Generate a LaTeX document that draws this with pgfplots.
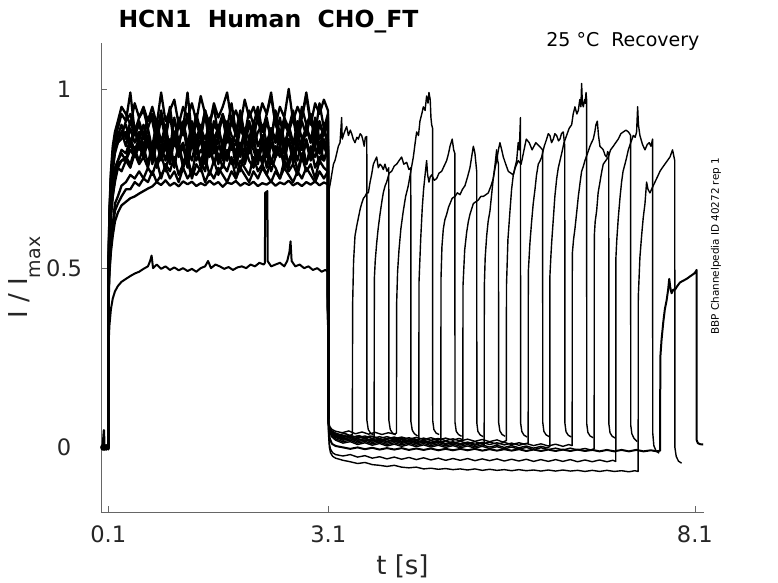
\documentclass[border=0pt]{standalone}
\usepackage{fontspec}
\setmainfont{DejaVu Sans}
\usepackage{pgfplots}
\usepackage{pgfplotstable}
\pgfplotsset{compat=1.18}
\pgfplotstableread{
t a0 a1 a2 a3 a4 a5 a6 a7 a8 a9 a10 a11 a12 a13 a14
0.000 0.003 -0.004 0.006 -0.002 0.001 -0.006 0.004 0.000 -0.003 0.005 -0.001 0.002 -0.005 0.003 -0.002
0.025 -0.005 0.004 -0.002 0.007 -0.004 0.002 -0.006 0.005 0.001 -0.003 0.006 -0.004 0.002 -0.001 0.004
0.040 0.002 -0.003 0.008 0.048 0.003 -0.004 0.001 -0.006 0.005 0.002 -0.003 0.006 -0.002 0.004 -0.005
0.046 -0.003 0.005 -0.004 0.003 -0.002 0.006 -0.005 0.002 -0.001 0.004 0.001 -0.006 0.005 -0.003 0.002
0.070 0.004 -0.002 0.003 -0.005 0.006 -0.001 0.002 -0.004 0.003 -0.006 0.005 0.001 -0.003 0.002 -0.004
0.099 -0.002 0.003 -0.005 0.002 -0.003 0.004 -0.002 0.006 -0.004 0.001 -0.005 0.003 0.004 -0.002 0.001
0.102 0.47 0.44 0.43 0.50 0.46 0.42 0.45 0.47 0.48 0.46 0.51 0.48 0.49 0.45 0.40
0.115 0.62 0.55 0.51 0.65 0.57 0.50 0.56 0.61 0.63 0.58 0.66 0.63 0.64 0.57 0.485
0.135 0.72 0.64 0.58 0.76 0.66 0.56 0.65 0.71 0.74 0.67 0.77 0.73 0.75 0.66 0.545
0.160 0.78 0.70 0.62 0.82 0.72 0.61 0.70 0.77 0.80 0.73 0.84 0.79 0.81 0.71 0.59
0.190 0.83 0.75 0.68 0.87 0.77 0.66 0.74 0.82 0.83 0.78 0.88 0.84 0.86 0.75 0.63
0.230 0.85 0.78 0.70 0.89 0.80 0.68 0.78 0.85 0.87 0.80 0.91 0.85 0.88 0.79 0.655
0.280 0.88 0.77 0.73 0.93 0.82 0.70 0.80 0.86 0.90 0.83 0.95 0.88 0.87 0.80 0.675
0.340 0.84 0.80 0.74 0.91 0.80 0.72 0.81 0.88 0.86 0.82 0.93 0.90 0.91 0.80 0.685
0.400 0.89 0.78 0.76 0.99 0.85 0.72 0.79 0.84 0.91 0.86 0.90 0.85 0.93 0.83 0.695
0.460 0.85 0.82 0.75 0.88 0.81 0.74 0.83 0.89 0.87 0.83 0.96 0.89 0.88 0.81 0.700
0.520 0.88 0.79 0.77 0.92 0.85 0.73 0.80 0.83 0.90 0.86 0.92 0.86 0.91 0.84 0.708
0.580 0.84 0.81 0.75 0.94 0.82 0.75 0.84 0.87 0.86 0.82 0.95 0.90 0.87 0.81 0.715
0.640 0.89 0.78 0.78 0.89 0.86 0.74 0.79 0.85 0.92 0.87 0.91 0.85 0.92 0.85 0.722
0.700 0.83 0.84 0.76 0.93 0.80 0.77 0.85 0.82 0.91 0.80 0.95 0.84 0.93 0.79 0.728
0.760 0.90 0.78 0.80 0.87 0.86 0.74 0.79 0.88 0.85 0.87 0.90 0.91 0.86 0.85 0.740
0.820 0.85 0.82 0.75 0.94 0.81 0.76 0.84 0.83 0.92 0.82 0.99 0.85 0.92 0.80 0.732
0.880 0.89 0.77 0.79 0.88 0.85 0.78 0.80 0.89 0.86 0.86 0.91 0.90 0.87 0.84 0.745
0.940 0.82 0.83 0.77 0.95 0.79 0.75 0.86 0.81 0.93 0.81 0.94 0.83 0.94 0.79 0.730
1.000 0.88 0.79 0.81 0.86 0.87 0.77 0.78 0.87 0.84 0.88 0.97 0.92 0.85 0.86 0.738
1.060 0.84 0.84 0.76 0.92 0.82 0.74 0.85 0.84 0.90 0.83 0.90 0.85 0.91 0.81 0.728
1.120 0.91 0.78 0.79 0.89 0.84 0.78 0.79 0.90 0.87 0.85 0.95 0.89 0.88 0.84 0.742
1.180 0.85 0.81 0.80 0.99 0.80 0.75 0.83 0.82 0.92 0.80 0.92 0.84 0.93 0.78 0.734
1.240 0.88 0.76 0.75 0.87 0.86 0.77 0.80 0.88 0.85 0.87 0.96 0.91 0.86 0.85 0.741
1.300 0.83 0.83 0.79 0.93 0.83 0.76 0.86 0.85 0.91 0.82 0.91 0.86 0.92 0.80 0.729
1.360 0.89 0.80 0.77 0.88 0.79 0.78 0.78 0.89 0.86 0.86 0.98 0.90 0.87 0.83 0.737
1.420 0.86 0.77 0.81 0.94 0.85 0.74 0.84 0.81 0.93 0.79 0.93 0.83 0.94 0.81 0.731
1.480 0.90 0.84 0.76 0.90 0.82 0.77 0.81 0.87 0.84 0.88 0.90 0.92 0.85 0.85 0.744
1.540 0.82 0.79 0.80 0.95 0.87 0.75 0.85 0.84 0.90 0.82 0.96 0.86 0.91 0.79 0.733
1.600 0.87 0.82 0.76 0.87 0.80 0.78 0.79 0.90 0.88 0.86 0.92 0.89 0.89 0.84 0.740
1.660 0.85 0.78 0.79 0.93 0.84 0.76 0.83 0.83 0.92 0.80 0.95 0.84 0.93 0.82 0.727
1.720 0.90 0.83 0.77 0.89 0.81 0.74 0.80 0.88 0.85 0.87 0.99 0.91 0.86 0.80 0.739
1.780 0.84 0.79 0.81 0.96 0.86 0.77 0.86 0.85 0.91 0.83 0.91 0.87 0.92 0.85 0.735
1.840 0.88 0.81 0.75 0.88 0.82 0.75 0.78 0.82 0.87 0.85 0.94 0.85 0.88 0.81 0.743
1.900 0.83 0.77 0.80 0.92 0.85 0.78 0.84 0.89 0.93 0.81 0.90 0.90 0.94 0.84 0.730
1.960 0.89 0.84 0.78 0.87 0.80 0.76 0.81 0.86 0.84 0.88 0.97 0.86 0.87 0.79 0.738
2.020 0.86 0.80 0.76 0.94 0.86 0.74 0.85 0.83 0.90 0.82 0.92 0.91 0.91 0.83 0.732
2.080 0.91 0.78 0.81 0.90 0.83 0.77 0.79 0.90 0.87 0.86 0.95 0.84 0.86 0.86 0.741
2.140 0.84 0.83 0.77 0.95 0.79 0.75 0.83 0.84 0.92 0.80 0.91 0.88 0.93 0.80 0.729
2.200 0.87 0.79 0.79 0.88 0.85 0.78 0.80 0.87 0.85 0.87 0.96 0.90 0.88 0.84 0.737
2.260 0.83 0.82 0.76 0.93 0.81 0.76 0.86 0.81 0.91 0.83 0.93 0.85 0.92 0.78 0.733
2.320 0.89 0.77 0.80 0.99 0.87 0.74 0.79 0.89 0.86 0.85 0.98 0.89 0.86 0.85 0.742
2.380 0.85 0.81 0.78 0.90 0.82 0.77 0.84 0.85 0.93 0.81 0.90 0.86 0.94 0.81 0.730
2.440 0.88 0.84 0.75 0.87 0.84 0.75 0.81 0.88 0.84 0.88 0.95 0.92 0.87 0.83 0.739
2.500 0.82 0.78 0.80 0.92 0.80 0.78 0.85 0.82 0.90 0.82 0.92 0.85 0.91 0.80 0.734
2.560 0.90 0.80 0.77 0.89 0.86 0.76 0.78 0.89 0.88 0.86 1.00 0.88 0.88 0.86 0.744
2.620 0.85 0.83 0.79 0.94 0.82 0.74 0.84 0.84 0.92 0.80 0.91 0.84 0.93 0.79 0.731
2.680 0.88 0.77 0.76 0.88 0.85 0.77 0.80 0.87 0.85 0.87 0.95 0.91 0.86 0.84 0.738
2.740 0.83 0.82 0.81 0.95 0.80 0.75 0.86 0.83 0.91 0.83 0.92 0.86 0.92 0.81 0.729
2.800 0.89 0.79 0.77 0.90 0.86 0.78 0.79 0.90 0.87 0.85 0.98 0.89 0.99 0.85 0.740
2.860 0.86 0.84 0.79 0.93 0.81 0.76 0.83 0.85 0.93 0.81 0.90 0.85 0.91 0.80 0.733
2.920 0.91 0.78 0.75 0.87 0.87 0.74 0.81 0.88 0.84 0.88 0.96 0.92 0.88 0.84 0.742
2.980 0.84 0.81 0.80 0.96 0.83 0.77 0.85 0.82 0.90 0.82 0.93 0.86 0.91 0.79 0.731
3.040 0.88 0.80 0.78 0.89 0.84 0.75 0.80 0.89 0.87 0.86 0.97 0.89 0.87 0.85 0.739
3.095 0.86 0.83 0.77 0.93 0.81 0.77 0.84 0.84 0.91 0.83 0.94 0.85 0.92 0.82 0.734
3.100 0.08 0.08 0.08 0.08 0.08 0.08 0.08 0.08 0.08 0.08 0.08 0.08 0.08 0.08 0.08
}\pre
\begin{document}
\begin{tikzpicture}
\path[use as bounding box] (-101bp,-70.7bp) rectangle (677bp,512.3bp);
\begin{axis}[
  scale only axis, width=603bp, height=469.3bp,
  xmin=0, xmax=8.224, ymin=-0.181, ymax=1.128,
  axis x line*=bottom, axis y line*=left,
  axis line style={black!60, line width=0.6bp, -},
  xtick={0.1,3.1,8.1}, ytick={0,0.5,1},
  xticklabels={0.1,3.1,8.1}, yticklabels={0,0.5,1},
  tick align=inside, major tick length=6.5bp,
  tick style={black!60, line width=0.6bp},
  ticklabel style={font=\fontsize{22.6bp}{26bp}\selectfont, text=black!85},
  xticklabel style={anchor=center, yshift=-21.5bp},
  yticklabel style={anchor=center, xshift=-37bp},
  xlabel={t [s]},
  ylabel={I / I\raisebox{-13bp}{\fontsize{19bp}{19bp}\selectfont max}},
  label style={font=\fontsize{26bp}{30bp}\selectfont, text=black!85},
  xlabel style={at={(axis description cs:0.5,-0.1333)}, anchor=base},
  ylabel style={at={(axis description cs:-0.1227,0.5)}, anchor=base},
  cycle list={{black, solid, mark=none}},
  every axis plot/.append style={line width=1.4bp, line join=round},
]
\pgfplotsinvokeforeach{0,...,14}{\addplot+[line width=2.3bp] table[x=t, y=a#1] {\pre};}
% sweep 15 (low amplitude), full trace
\addplot+[line width=2bp] coordinates {(0.000,0.002)(0.03,-0.004)(0.06,0.003)(0.099,-0.002)(0.102,0.28)(0.115,0.34)(0.135,0.385)(0.16,0.415)(0.19,0.435)(0.23,0.45)(0.28,0.462)(0.34,0.47)(0.40,0.478)(0.46,0.485)(0.52,0.49)(0.58,0.498)(0.64,0.505)(0.67,0.52)(0.69,0.535)(0.71,0.50)(0.76,0.51)(0.82,0.498)(0.88,0.505)(0.94,0.495)(1.00,0.502)(1.06,0.494)(1.12,0.50)(1.18,0.492)(1.24,0.498)(1.30,0.49)(1.36,0.50)(1.42,0.505)(1.46,0.52)(1.50,0.50)(1.56,0.51)(1.62,0.505)(1.68,0.498)(1.74,0.503)(1.80,0.495)(1.86,0.502)(1.92,0.505)(1.98,0.50)(2.04,0.51)(2.10,0.505)(2.16,0.515)(2.22,0.51)(2.236,0.515)(2.238,0.71)(2.27,0.715)(2.272,0.52)(2.32,0.505)(2.38,0.51)(2.44,0.515)(2.50,0.505)(2.54,0.52)(2.57,0.545)(2.585,0.575)(2.60,0.52)(2.65,0.505)(2.71,0.51)(2.77,0.50)(2.83,0.505)(2.89,0.495)(2.95,0.50)(3.01,0.49)(3.06,0.495)(3.095,0.49)(3.100,0.08)(3.106,0.05)(3.12,0.025)(3.15,0.01)(3.20,0.004)(3.30,0.0)(3.40,-0.004)(3.50,0.0)(3.60,-0.005)(3.70,-0.001)(3.80,-0.006)(3.90,-0.002)(4.00,-0.006)(4.10,-0.002)(4.20,-0.007)(4.30,-0.003)(4.40,-0.007)(4.50,-0.003)(4.60,-0.008)(4.70,-0.004)(4.80,-0.008)(4.90,-0.004)(5.00,-0.008)(5.10,-0.004)(5.20,-0.009)(5.30,-0.005)(5.40,-0.009)(5.50,-0.005)(5.60,-0.009)(5.70,-0.005)(5.80,-0.01)(5.90,-0.006)(6.00,-0.01)(6.10,-0.006)(6.20,-0.01)(6.30,-0.006)(6.40,-0.01)(6.50,-0.006)(6.60,-0.01)(6.70,-0.007)(6.80,-0.011)(6.90,-0.007)(7.00,-0.011)(7.10,-0.007)(7.20,-0.011)(7.30,-0.007)(7.40,-0.011)(7.50,-0.008)(7.58,-0.011)(7.626,-0.009)(7.628,0.25)(7.645,0.30)(7.669,0.35)(7.69,0.385)(7.714,0.41)(7.735,0.44)(7.75,0.47)(7.765,0.445)(7.782,0.43)(7.805,0.44)(7.828,0.44)(7.86,0.45)(7.896,0.46)(7.94,0.465)(7.987,0.47)(8.02,0.475)(8.055,0.48)(8.09,0.485)(8.11,0.49)(8.123,0.495)(8.125,0.02)(8.14,0.012)(8.17,0.009)(8.213,0.008)};
% sweeps 0-14 after 3.1 s
\addplot coordinates {(3.100,0.08)(3.108,0.06)(3.112,0.72)(3.13,0.74)(3.146,0.76)(3.17,0.79)(3.191,0.80)(3.215,0.82)(3.237,0.84)(3.26,0.85)(3.282,0.92)(3.29,0.86)(3.305,0.87)(3.33,0.885)(3.35,0.895)(3.375,0.87)(3.40,0.885)(3.419,0.875)(3.44,0.86)(3.464,0.85)(3.49,0.865)(3.51,0.86)(3.535,0.875)(3.555,0.87)(3.575,0.855)(3.59,0.84)(3.605,0.865)(3.625,0.867)(3.627,0.075)(3.645,0.05)(3.675,0.04)(3.715,0.035)};
\addplot coordinates {(3.100,0.08)(3.106,0.068)(3.12,0.055)(3.15,0.046)(3.20,0.040)(3.26,0.036)(3.33,0.039)(3.39,0.033)(3.428,0.036)(3.432,0.40)(3.445,0.52)(3.464,0.59)(3.49,0.62)(3.51,0.64)(3.535,0.665)(3.555,0.68)(3.58,0.695)(3.60,0.70)(3.625,0.71)(3.646,0.71)(3.67,0.74)(3.69,0.76)(3.715,0.79)(3.737,0.80)(3.76,0.81)(3.782,0.78)(3.805,0.79)(3.828,0.785)(3.85,0.775)(3.873,0.79)(3.90,0.77)(3.925,0.78)(3.927,0.075)(3.945,0.05)(3.975,0.04)(4.018,0.035)};
\addplot coordinates {(3.100,0.08)(3.106,0.066)(3.12,0.052)(3.15,0.043)(3.20,0.037)(3.28,0.031)(3.36,0.036)(3.44,0.028)(3.52,0.033)(3.60,0.027)(3.67,0.032)(3.725,0.029)(3.728,0.47)(3.74,0.52)(3.76,0.57)(3.78,0.61)(3.805,0.65)(3.83,0.685)(3.85,0.71)(3.875,0.73)(3.896,0.74)(3.93,0.765)(3.964,0.77)(4.00,0.785)(4.032,0.79)(4.065,0.80)(4.10,0.81)(4.13,0.79)(4.169,0.795)(4.20,0.775)(4.225,0.78)(4.227,0.072)(4.245,0.048)(4.275,0.038)(4.318,0.032)};
\addplot coordinates {(3.100,0.08)(3.106,0.07)(3.12,0.058)(3.15,0.05)(3.20,0.045)(3.29,0.041)(3.38,0.046)(3.47,0.038)(3.56,0.043)(3.65,0.037)(3.74,0.042)(3.83,0.036)(3.92,0.041)(4.00,0.037)(4.03,0.04)(4.032,0.40)(4.045,0.49)(4.064,0.55)(4.09,0.61)(4.123,0.66)(4.155,0.70)(4.191,0.73)(4.225,0.77)(4.26,0.81)(4.285,0.85)(4.305,0.88)(4.33,0.87)(4.35,0.91)(4.375,0.93)(4.396,0.95)(4.42,0.94)(4.441,0.98)(4.46,0.96)(4.473,0.99)(4.49,0.97)(4.50,0.92)(4.51,0.90)(4.522,0.89)(4.524,0.075)(4.54,0.05)(4.57,0.04)(4.612,0.036)};
\addplot coordinates {(3.100,0.08)(3.106,0.065)(3.12,0.05)(3.15,0.04)(3.20,0.034)(3.29,0.027)(3.38,0.031)(3.47,0.024)(3.56,0.029)(3.65,0.022)(3.74,0.027)(3.83,0.021)(3.92,0.026)(4.01,0.02)(4.10,0.025)(4.19,0.019)(4.27,0.024)(4.335,0.021)(4.337,0.46)(4.36,0.58)(4.382,0.67)(4.40,0.72)(4.42,0.76)(4.441,0.80)(4.455,0.76)(4.473,0.74)(4.49,0.755)(4.51,0.76)(4.545,0.745)(4.578,0.75)(4.61,0.765)(4.646,0.77)(4.68,0.785)(4.714,0.80)(4.74,0.82)(4.76,0.84)(4.79,0.86)(4.81,0.83)(4.826,0.82)(4.828,0.07)(4.845,0.045)(4.875,0.036)(4.918,0.031)};
\addplot coordinates {(3.100,0.08)(3.106,0.063)(3.12,0.048)(3.15,0.038)(3.20,0.031)(3.30,0.024)(3.40,0.028)(3.50,0.02)(3.60,0.025)(3.70,0.018)(3.80,0.023)(3.90,0.017)(4.00,0.022)(4.10,0.016)(4.20,0.021)(4.30,0.015)(4.40,0.02)(4.50,0.014)(4.58,0.019)(4.635,0.016)(4.637,0.47)(4.65,0.56)(4.669,0.61)(4.69,0.635)(4.714,0.65)(4.74,0.67)(4.76,0.68)(4.79,0.695)(4.828,0.70)(4.86,0.71)(4.896,0.705)(4.93,0.72)(4.964,0.73)(5.00,0.755)(5.032,0.78)(5.055,0.81)(5.078,0.84)(5.09,0.83)(5.10,0.82)(5.124,0.77)(5.126,0.068)(5.14,0.045)(5.17,0.035)(5.213,0.03)};
\addplot coordinates {(3.100,0.08)(3.106,0.066)(3.12,0.051)(3.15,0.042)(3.20,0.036)(3.30,0.033)(3.40,0.027)(3.50,0.032)(3.60,0.026)(3.70,0.031)(3.80,0.025)(3.90,0.03)(4.00,0.024)(4.10,0.029)(4.20,0.023)(4.30,0.028)(4.40,0.022)(4.50,0.027)(4.60,0.021)(4.70,0.026)(4.80,0.02)(4.88,0.025)(4.935,0.022)(4.937,0.45)(4.96,0.55)(4.987,0.60)(5.01,0.63)(5.032,0.65)(5.055,0.665)(5.078,0.68)(5.11,0.685)(5.146,0.69)(5.18,0.70)(5.214,0.70)(5.25,0.705)(5.282,0.71)(5.32,0.73)(5.35,0.75)(5.375,0.79)(5.396,0.83)(5.41,0.80)(5.421,0.79)(5.423,0.07)(5.44,0.046)(5.47,0.036)(5.512,0.031)};
\addplot coordinates {(3.100,0.08)(3.106,0.062)(3.12,0.046)(3.15,0.036)(3.20,0.028)(3.30,0.02)(3.40,0.024)(3.50,0.016)(3.60,0.021)(3.70,0.014)(3.80,0.019)(3.90,0.012)(4.00,0.017)(4.10,0.011)(4.20,0.016)(4.30,0.01)(4.40,0.015)(4.50,0.009)(4.60,0.014)(4.70,0.008)(4.80,0.013)(4.90,0.007)(5.00,0.012)(5.10,0.006)(5.18,0.011)(5.226,0.008)(5.228,0.45)(5.24,0.53)(5.26,0.59)(5.28,0.63)(5.305,0.66)(5.33,0.71)(5.35,0.75)(5.375,0.78)(5.396,0.80)(5.42,0.83)(5.441,0.85)(5.465,0.83)(5.487,0.81)(5.52,0.79)(5.555,0.77)(5.59,0.765)(5.623,0.76)(5.645,0.78)(5.669,0.80)(5.69,0.85)(5.705,0.83)(5.721,0.92)(5.723,0.068)(5.74,0.044)(5.77,0.034)(5.812,0.029)};
\addplot coordinates {(3.100,0.08)(3.106,0.065)(3.12,0.05)(3.15,0.04)(3.20,0.033)(3.30,0.029)(3.40,0.034)(3.50,0.027)(3.60,0.032)(3.70,0.025)(3.80,0.03)(3.90,0.024)(4.00,0.029)(4.10,0.022)(4.20,0.027)(4.30,0.021)(4.40,0.026)(4.50,0.02)(4.60,0.025)(4.70,0.019)(4.80,0.024)(4.90,0.018)(5.00,0.023)(5.10,0.017)(5.20,0.022)(5.30,0.016)(5.40,0.021)(5.48,0.015)(5.528,0.019)(5.53,0.45)(5.55,0.58)(5.578,0.66)(5.60,0.72)(5.623,0.76)(5.65,0.78)(5.69,0.80)(5.73,0.79)(5.77,0.83)(5.80,0.86)(5.84,0.85)(5.88,0.83)(5.93,0.85)(5.98,0.84)(6.023,0.83)(6.025,0.07)(6.04,0.045)(6.07,0.035)(6.113,0.03)};
\addplot coordinates {(3.100,0.08)(3.106,0.063)(3.12,0.047)(3.15,0.037)(3.20,0.03)(3.30,0.026)(3.40,0.02)(3.50,0.025)(3.60,0.018)(3.70,0.023)(3.80,0.017)(3.90,0.022)(4.00,0.016)(4.10,0.021)(4.20,0.015)(4.30,0.02)(4.40,0.014)(4.50,0.019)(4.60,0.013)(4.70,0.018)(4.80,0.012)(4.90,0.017)(5.00,0.011)(5.10,0.016)(5.20,0.01)(5.30,0.015)(5.40,0.009)(5.50,0.014)(5.60,0.008)(5.70,0.013)(5.78,0.009)(5.826,0.012)(5.828,0.49)(5.85,0.57)(5.873,0.63)(5.895,0.68)(5.919,0.72)(5.94,0.76)(5.964,0.79)(5.99,0.80)(6.01,0.81)(6.045,0.84)(6.078,0.86)(6.10,0.875)(6.123,0.87)(6.145,0.85)(6.169,0.86)(6.19,0.875)(6.214,0.87)(6.24,0.855)(6.26,0.86)(6.28,0.875)(6.305,0.88)(6.325,0.84)(6.327,0.068)(6.342,0.044)(6.372,0.034)(6.415,0.029)};
\addplot coordinates {(3.100,0.08)(3.106,0.06)(3.12,0.044)(3.15,0.032)(3.20,0.024)(3.30,0.016)(3.40,0.02)(3.50,0.012)(3.60,0.017)(3.70,0.01)(3.80,0.015)(3.90,0.008)(4.00,0.013)(4.10,0.007)(4.20,0.012)(4.30,0.006)(4.40,0.011)(4.50,0.005)(4.60,0.01)(4.70,0.004)(4.80,0.009)(4.90,0.003)(5.00,0.008)(5.10,0.002)(5.20,0.007)(5.30,0.001)(5.40,0.006)(5.50,0.0)(5.60,0.005)(5.70,-0.001)(5.80,0.004)(5.90,-0.002)(6.00,0.003)(6.08,-0.001)(6.121,0.002)(6.123,0.48)(6.135,0.53)(6.146,0.57)(6.17,0.64)(6.19,0.70)(6.215,0.75)(6.237,0.78)(6.26,0.80)(6.283,0.82)(6.315,0.85)(6.35,0.87)(6.385,0.89)(6.419,0.90)(6.44,0.93)(6.464,0.95)(6.49,0.93)(6.51,0.94)(6.53,0.97)(6.545,0.95)(6.555,1.015)(6.565,0.96)(6.578,0.95)(6.595,0.97)(6.605,0.96)(6.615,0.99)(6.623,0.97)(6.625,0.066)(6.64,0.042)(6.67,0.032)(6.713,0.027)};
\addplot coordinates {(3.100,0.08)(3.106,0.064)(3.12,0.049)(3.15,0.039)(3.20,0.032)(3.30,0.023)(3.40,0.028)(3.50,0.02)(3.60,0.025)(3.70,0.018)(3.80,0.022)(3.90,0.016)(4.00,0.021)(4.10,0.014)(4.20,0.019)(4.30,0.013)(4.40,0.018)(4.50,0.012)(4.60,0.017)(4.70,0.011)(4.80,0.016)(4.90,0.01)(5.00,0.015)(5.10,0.009)(5.20,0.014)(5.30,0.008)(5.40,0.013)(5.50,0.007)(5.60,0.012)(5.70,0.006)(5.80,0.011)(5.90,0.005)(6.00,0.01)(6.10,0.004)(6.20,0.009)(6.30,0.003)(6.38,0.008)(6.426,0.005)(6.428,0.54)(6.445,0.58)(6.464,0.61)(6.49,0.66)(6.51,0.70)(6.535,0.74)(6.555,0.77)(6.58,0.785)(6.60,0.80)(6.635,0.82)(6.669,0.84)(6.69,0.85)(6.714,0.86)(6.735,0.88)(6.75,0.90)(6.769,0.91)(6.785,0.87)(6.805,0.84)(6.83,0.835)(6.85,0.83)(6.875,0.815)(6.896,0.81)(6.91,0.825)(6.925,0.82)(6.927,0.065)(6.942,0.041)(6.972,0.031)(7.015,0.026)};
\addplot coordinates {(3.100,0.08)(3.106,0.058)(3.12,0.041)(3.15,0.029)(3.20,0.02)(3.30,0.012)(3.40,0.016)(3.50,0.008)(3.60,0.013)(3.70,0.006)(3.80,0.011)(3.90,0.004)(4.00,0.009)(4.10,0.003)(4.20,0.008)(4.30,0.002)(4.40,0.007)(4.50,0.001)(4.60,0.006)(4.70,0.0)(4.80,0.005)(4.90,-0.001)(5.00,0.004)(5.10,-0.002)(5.20,0.003)(5.30,-0.003)(5.40,0.002)(5.50,-0.004)(5.60,0.001)(5.70,-0.005)(5.80,0.0)(5.90,-0.006)(6.00,-0.001)(6.10,-0.006)(6.20,-0.002)(6.30,-0.007)(6.40,-0.002)(6.50,-0.007)(6.60,-0.003)(6.68,-0.007)(6.726,-0.004)(6.728,0.59)(6.74,0.63)(6.76,0.66)(6.78,0.71)(6.805,0.74)(6.83,0.77)(6.85,0.79)(6.885,0.80)(6.919,0.81)(6.95,0.83)(6.987,0.84)(7.02,0.85)(7.055,0.86)(7.09,0.875)(7.124,0.88)(7.16,0.885)(7.192,0.88)(7.21,0.875)(7.223,0.87)(7.225,0.062)(7.24,0.038)(7.27,0.025)(7.313,0.016)};
\addplot coordinates {(3.100,0.08)(3.105,0.04)(3.115,0.01)(3.13,-0.005)(3.16,-0.015)(3.20,-0.02)(3.30,-0.024)(3.40,-0.02)(3.50,-0.027)(3.60,-0.023)(3.70,-0.03)(3.80,-0.026)(3.90,-0.032)(4.00,-0.027)(4.10,-0.033)(4.20,-0.028)(4.30,-0.034)(4.40,-0.029)(4.50,-0.035)(4.60,-0.03)(4.70,-0.036)(4.80,-0.031)(4.90,-0.036)(5.00,-0.031)(5.10,-0.037)(5.20,-0.032)(5.30,-0.037)(5.40,-0.032)(5.50,-0.038)(5.60,-0.033)(5.70,-0.038)(5.80,-0.033)(5.90,-0.039)(6.00,-0.034)(6.10,-0.039)(6.20,-0.034)(6.30,-0.039)(6.40,-0.034)(6.50,-0.04)(6.60,-0.035)(6.70,-0.04)(6.80,-0.035)(6.90,-0.04)(6.98,-0.036)(7.021,-0.039)(7.023,0.53)(7.035,0.58)(7.055,0.64)(7.08,0.70)(7.10,0.74)(7.12,0.77)(7.146,0.79)(7.17,0.81)(7.192,0.83)(7.225,0.85)(7.26,0.87)(7.285,0.865)(7.305,0.88)(7.319,0.95)(7.33,0.90)(7.35,0.87)(7.385,0.845)(7.419,0.83)(7.45,0.845)(7.478,0.85)(7.50,0.84)(7.523,0.86)(7.525,0.04)(7.54,0.005)(7.57,-0.01)(7.613,-0.016)};
\addplot coordinates {(3.100,0.08)(3.105,0.03)(3.115,0.0)(3.13,-0.015)(3.16,-0.025)(3.20,-0.03)(3.30,-0.036)(3.40,-0.04)(3.50,-0.045)(3.60,-0.042)(3.70,-0.048)(3.80,-0.05)(3.90,-0.053)(4.00,-0.05)(4.10,-0.055)(4.20,-0.057)(4.30,-0.055)(4.40,-0.06)(4.50,-0.058)(4.60,-0.061)(4.70,-0.059)(4.80,-0.062)(4.90,-0.06)(5.00,-0.063)(5.10,-0.06)(5.20,-0.064)(5.30,-0.061)(5.40,-0.064)(5.50,-0.062)(5.60,-0.065)(5.70,-0.062)(5.80,-0.065)(5.90,-0.063)(6.00,-0.066)(6.10,-0.063)(6.20,-0.066)(6.30,-0.063)(6.40,-0.066)(6.50,-0.064)(6.60,-0.067)(6.70,-0.064)(6.80,-0.067)(6.90,-0.064)(7.00,-0.067)(7.10,-0.065)(7.20,-0.068)(7.28,-0.065)(7.326,-0.067)(7.328,0.42)(7.35,0.53)(7.373,0.59)(7.395,0.64)(7.419,0.68)(7.441,0.74)(7.46,0.72)(7.487,0.71)(7.52,0.725)(7.555,0.74)(7.59,0.755)(7.623,0.77)(7.655,0.78)(7.69,0.79)(7.725,0.80)(7.76,0.81)(7.795,0.83)(7.81,0.815)(7.825,0.80)(7.827,0.0)(7.845,-0.025)(7.875,-0.038)(7.918,-0.044)};
\end{axis}
\node[anchor=base west, font=\bfseries\fontsize{23.5bp}{28bp}\selectfont] at (14bp,485bp) {HCN1~~Human~~CHO\textunderscore FT};
\node[anchor=base east, font=\fontsize{19bp}{23bp}\selectfont] at (602bp,466bp) {25 °C~~Recovery};
\node[rotate=90, font=\fontsize{10.4bp}{12bp}\selectfont] at (615bp,266bp) {BBP Channelpedia ID 40272 rep 1};
\end{tikzpicture}
\end{document}
